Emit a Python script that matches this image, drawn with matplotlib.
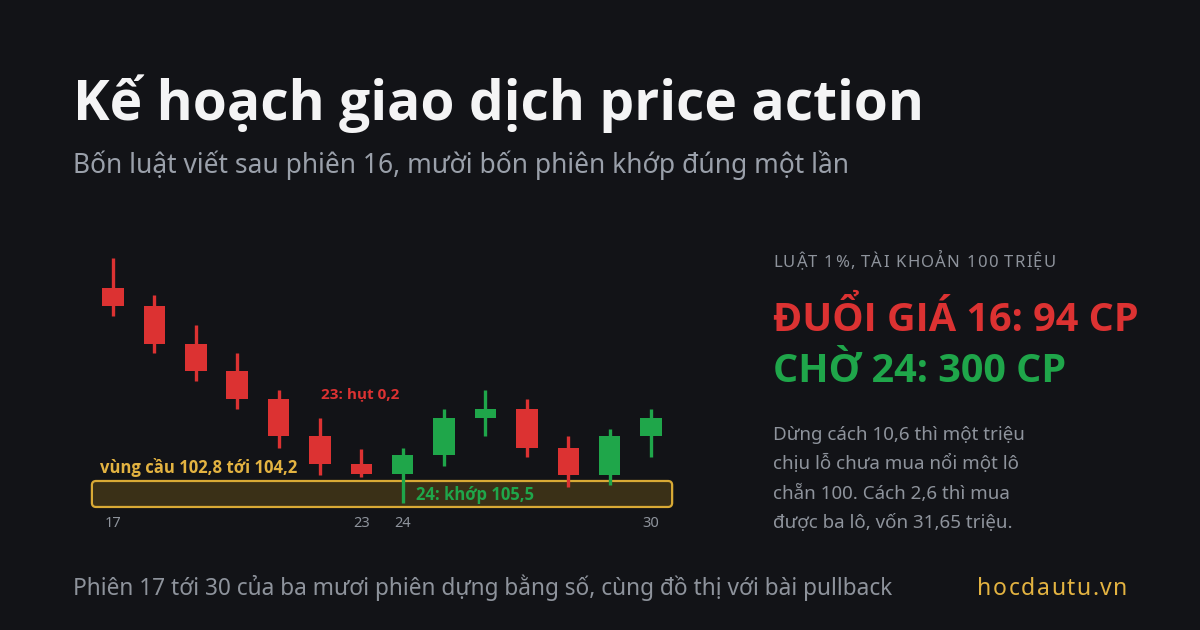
import matplotlib
matplotlib.use("Agg")
import matplotlib.pyplot as plt
from matplotlib.patches import FancyBboxPatch

plt.rcParams['font.family'] = ['Noto Sans', 'DejaVu Sans']
BOLD = ['Open Sans', 'DejaVu Sans']

# phiên 17..30, giá OHLC
sessions = [17, 18, 19, 20, 21, 22, 23, 24, 25, 26, 27, 28, 29, 30]
opens = [114.6, 113.6, 111.6, 110.1, 108.6, 106.6, 105.1, 104.6, 105.6, 107.6, 108.1, 106.0, 104.5, 106.6]
highs = [116.2, 114.2, 112.6, 111.1, 109.1, 107.6, 105.9, 106.0, 108.1, 109.1, 108.6, 106.6, 107.0, 108.1]
lows = [113.1, 111.1, 109.6, 108.1, 106.0, 104.5, 104.4, 103.0, 105.0, 106.6, 105.5, 103.9, 104.0, 105.5]
closes = [113.6, 111.6, 110.1, 108.6, 106.6, 105.1, 104.6, 105.6, 107.6, 108.1, 106.0, 104.5, 106.6, 107.6]
tick_sessions = [17, 23, 24, 30]
zone_low, zone_high = 102.8, 104.2

BG = '#121317'
RED = '#dc3232'
GREEN = '#1fa64a'
GOLD = '#e3b341'
GRAY = '#8e939c'

W, H = 1200, 630
fig = plt.figure(figsize=(12, 6.3), dpi=100, facecolor=BG)
renderer = fig.canvas.get_renderer()

def fx(px):
    return px / W

def fy(py):
    return 1 - py / H

def text_width(s, **kw):
    t = fig.text(0, 0, s, **kw)
    w = t.get_window_extent(renderer=renderer).width
    t.remove()
    return w

def spaced_text(x_px, y_px, s, spacing, ha='left', **kw):
    # chữ giãn cách, vẽ từng ký tự
    total = text_width(s, **kw) + spacing * (len(s) - 1)
    start = x_px if ha == 'left' else x_px - total
    for i, ch in enumerate(s):
        if ch == ' ':
            continue
        off = text_width(s[:i], **kw) if i else 0
        fig.text(fx(start + off + i * spacing), fy(y_px), ch, va='baseline', ha='left', **kw)

# tiêu đề
fig.text(fx(73), fy(120), "Kế hoạch giao dịch price action", color='#f4f4f5',
         fontsize=39.7, fontweight='bold', family=BOLD, va='baseline', ha='left')
fig.text(fx(73), fy(173), "Bốn luật viết sau phiên 16, mười bốn phiên khớp đúng một lần",
         color='#9aa0aa', fontsize=19, va='baseline', ha='left')

# vùng đồ thị nến
ax = fig.add_axes([fx(79.9), fy(530), (700.7 - 79.9) / W, 290 / H])
ax.set_facecolor(BG)
ax.set_xlim(16.2, 31.2)
ax.set_ylim(101.56, 117.18)
for s in ax.spines.values():
    s.set_visible(False)
ax.set_xticks([])
ax.set_yticks([])

zone = FancyBboxPatch((sessions[0] - 0.51, zone_low), sessions[-1] - sessions[0] + 1.02,
                      zone_high - zone_low,
                      boxstyle="round,pad=0,rounding_size=0.1", mutation_aspect=2.23,
                      facecolor='#3a3017', edgecolor='#d9aa35', linewidth=1.6, zorder=1)
ax.add_patch(zone)

for s, o, h, l, c in zip(sessions, opens, highs, lows, closes):
    col = GREEN if c >= o else RED
    ax.vlines(s, l, h, color=col, linewidth=2.4, zorder=3)
    ax.bar(s, abs(c - o), bottom=min(o, c), width=0.52, color=col, zorder=4)

ax.text(16.69, 104.65, "vùng cầu 102,8 tới 104,2", color=GOLD, fontsize=12,
        fontweight='bold', family=BOLD, va='baseline', ha='left', zorder=5)
ax.text(22.03, 108.85, "23: hụt 0,2", color=RED, fontsize=11, fontweight='bold',
        family=BOLD, va='center', ha='left', zorder=5)
ax.text(24.32, 103.42, "24: khớp 105,5", color=GREEN, fontsize=12, fontweight='bold',
        family=BOLD, va='center', ha='left', zorder=5)

for t in tick_sessions:
    ax.text(t, 101.9, str(t), color=GRAY, fontsize=10.5, va='center', ha='center')

# cột bên phải
spaced_text(773, 267, "LUẬT 1%, TÀI KHOẢN 100 TRIỆU", 1.2, color=GRAY, fontsize=12)
fig.text(fx(773), fy(331), "ĐUỔI GIÁ 16: 94 CP", color=RED, fontsize=28.5,
         fontweight='bold', family=BOLD, va='baseline', ha='left')
fig.text(fx(773), fy(382), "CHỜ 24: 300 CP", color=GREEN, fontsize=28.5,
         fontweight='bold', family=BOLD, va='baseline', ha='left')
para = ["Dừng cách 10,6 thì một triệu",
        "chịu lỗ chưa mua nổi một lô",
        "chẵn 100. Cách 2,6 thì mua",
        "được ba lô, vốn 31,65 triệu."]
for i, line in enumerate(para):
    fig.text(fx(773), fy(440 + i * 29.3), line, color=GRAY, fontsize=13.5,
             va='baseline', ha='left')

# chân trang
fig.text(fx(73), fy(595), "Phiên 17 tới 30 của ba mươi phiên dựng bằng số, cùng đồ thị với bài pullback",
         color=GRAY, fontsize=16.35, va='baseline', ha='left')
spaced_text(1127, 595, "hocdautu.vn", 1.5, ha='right', color=GOLD, fontsize=16.5)

fig.savefig("out.png", dpi=100, facecolor=BG)
